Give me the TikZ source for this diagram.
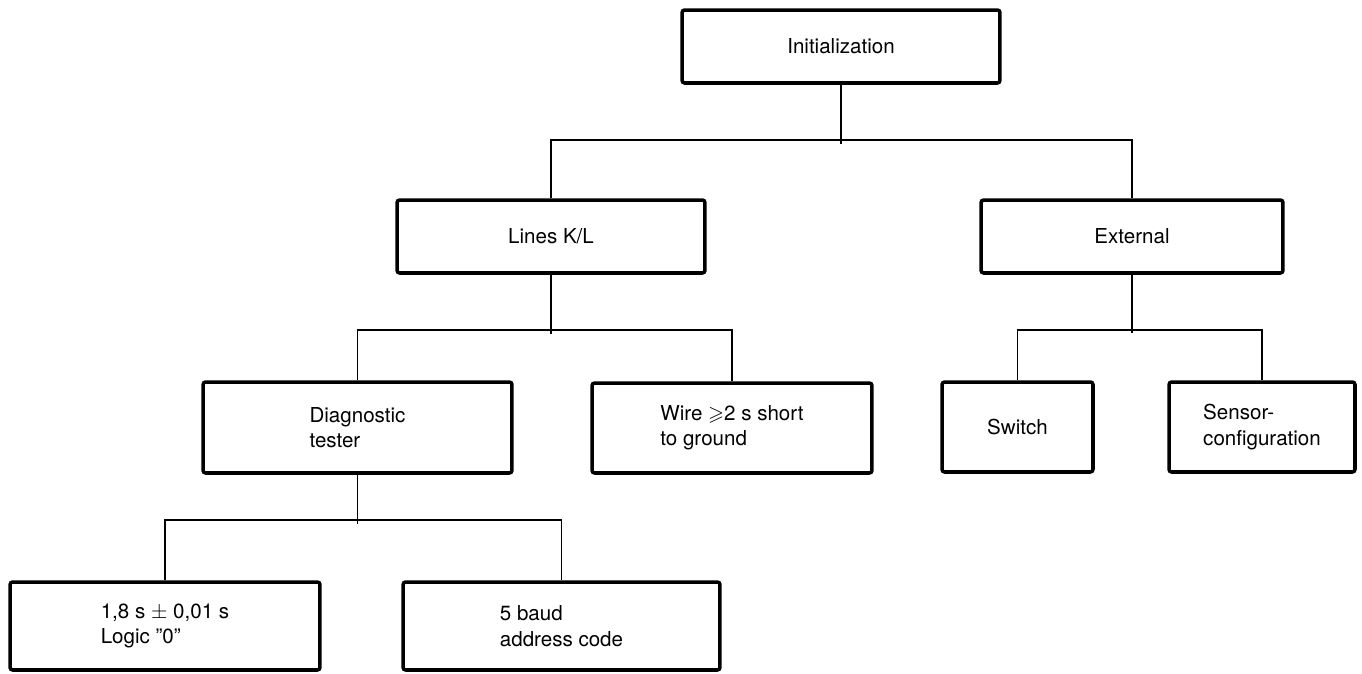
\documentclass[tikz,border=0pt]{standalone}
\usepackage{amsmath}
\usepackage{amssymb}
\usepackage{xcolor}
\usepackage{fontspec}
\setmainfont{TeX Gyre Heros}

\begin{document}
\begin{tikzpicture}[x=0.02cm,y=-0.02cm,
    box/.style={draw,line width=2pt,rounded corners=1.5pt,align=left,inner sep=2pt,
                font=\fontsize{11.7}{14.5}\selectfont},
    wire/.style={line width=0.9pt}]
    \useasboundingbox (0,0) rectangle (1362,673);

    \node (init) at (841,46.5) [box,minimum width=6.36cm,minimum height=1.46cm] {Initialization};

    \node (lines) at (551,236.5) [box,minimum width=6.16cm,minimum height=1.46cm] {Lines K/L};
    \node (ext) at (1132,236.5) [box,minimum width=6.04cm,minimum height=1.46cm] {External};

    \node (diag) at (357.5,427.5) [box,minimum width=6.18cm,minimum height=1.82cm] {Diagnostic\\tester};
    \node (short) at (732,428) [box,minimum width=5.6cm,minimum height=1.8cm] {Wire $\geqslant$2 s short\\to ground};
    \node (switch) at (1017.5,427) [box,minimum width=3.02cm,minimum height=1.8cm] {Switch};
    \node (sensor) at (1262,427) [box,minimum width=3.72cm,minimum height=1.8cm] {Sensor-\\configuration};

    \node (logic) at (165,626) [box,minimum width=6.2cm,minimum height=1.76cm] {1,8 s $\pm$ 0,01 s\\Logic ''0''};
    \node (baud) at (561.5,626) [box,minimum width=6.34cm,minimum height=1.76cm] {5 baud\\address code};

    \draw[wire] (init.south) -- ++(0,59);
    \draw[wire] (lines.north) -- ++(0,-58) -| (ext.north);

    \draw[wire] (lines.south) -- ++(0,59);
    \draw[wire] (diag.north) -- ++(0,-50) -| (short.north);

    \draw[wire] (ext.south) -- ++(0,58);
    \draw[wire] (switch.north) -- ++(0,-50) -| (sensor.north);

    \draw[wire] (diag.south) -- ++(0,49);
    \draw[wire] (logic.north) -- ++(0,-60) -| (baud.north);
\end{tikzpicture}
\end{document}
